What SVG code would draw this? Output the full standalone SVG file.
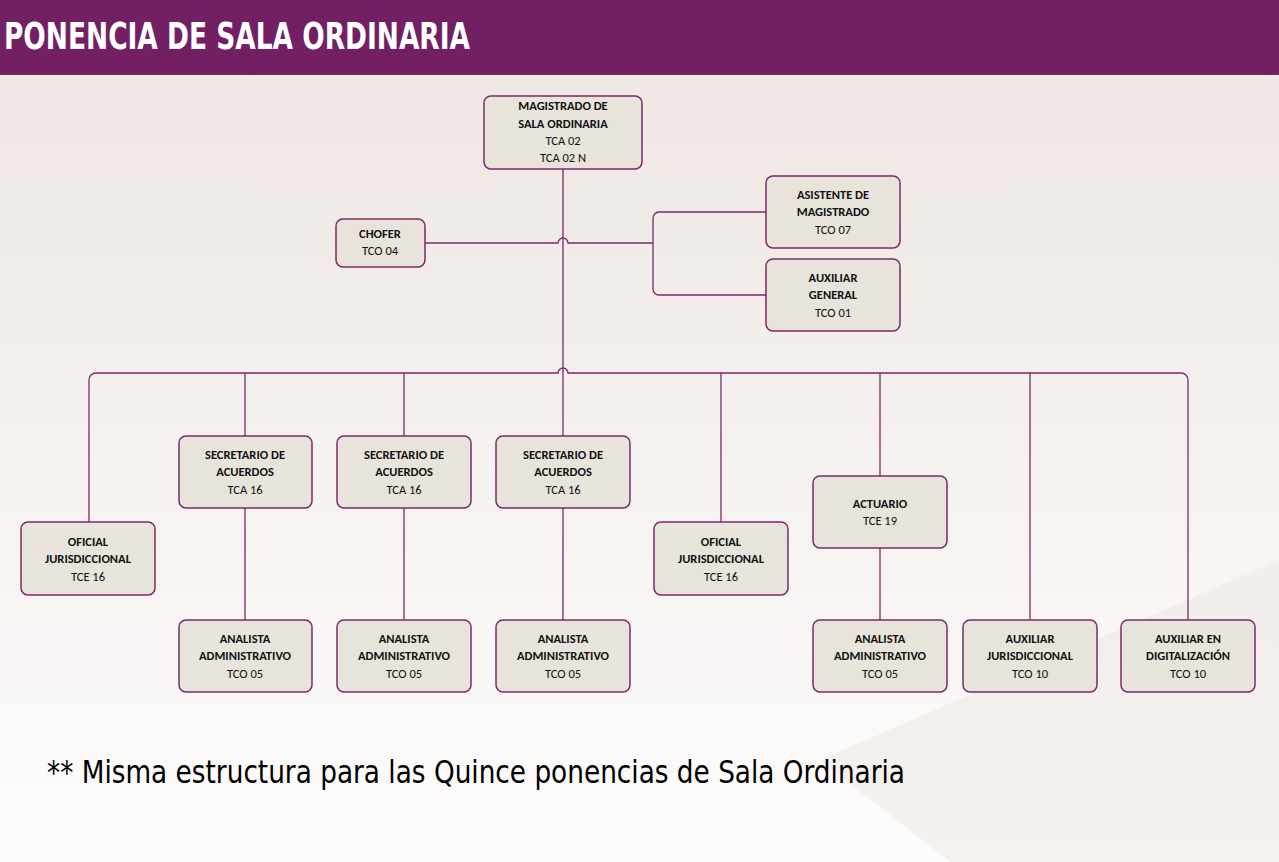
<svg xmlns="http://www.w3.org/2000/svg" width="1279" height="862" viewBox="0 0 1279 862">
<defs>
<linearGradient id="bg" x1="0" y1="0" x2="0" y2="1"><stop offset="0" stop-color="#ede5e0"/><stop offset="1" stop-color="#fdfcfc"/></linearGradient>
<style>
.n rect{fill:#e8e3db;stroke:#7a2a6c;stroke-width:1.5}
.n text{font-family:Calibri,"Carlito","Liberation Sans",sans-serif;font-size:12.5px;fill:#111;text-anchor:middle}
.b{font-weight:bold}
.c path{fill:none;stroke:#7a2a6c;stroke-width:1.3}
</style>
</defs>
<rect width="1279" height="862" fill="url(#bg)"/>
<polygon points="1279,560 1279,862 950,862 820,760" fill="#efe9e6" opacity="0.6"/>
<rect width="1279" height="75" fill="#722063"/>
<text x="4" y="49" font-family="'DejaVu Sans Condensed','DejaVu Sans',sans-serif" font-weight="bold" font-size="38" fill="#fff" textLength="466" lengthAdjust="spacingAndGlyphs">PONENCIA DE SALA ORDINARIA</text>
<g class="c">
<path d="M563 169 V436"/>
<path d="M425 243 H558 a5 5 0 0 1 10 0 H653 M766 212 H659 a6 6 0 0 0 -6 6 V289 a6 6 0 0 0 6 6 H766"/>
<path d="M89 522 V380 a7 7 0 0 1 7 -7 H558 a5 5 0 0 1 10 0 H1181 a7 7 0 0 1 7 7 V620"/>
<path d="M245 373 V436 M404 373 V436 M721 373 V522 M880 373 V476 M1030 373 V620"/>
<path d="M245 508 V620 M404 508 V620 M563 508 V620 M880 548 V620"/>
</g>
<g id="magistrado" class="n"><rect x="484" y="96" width="158" height="73" rx="7"/><text x="563" y="110" class="b">MAGISTRADO DE</text><text x="563" y="128" class="b">SALA ORDINARIA</text><text x="563" y="145">TCA 02</text><text x="563" y="162">TCA 02 N</text></g>
<g id="chofer" class="n"><rect x="336" y="219" width="89" height="48" rx="7"/><text x="380" y="238" class="b">CHOFER</text><text x="380" y="255">TCO 04</text></g>
<g id="asistente" class="n"><rect x="766" y="176" width="134" height="72" rx="7"/><text x="833" y="199" class="b">ASISTENTE DE</text><text x="833" y="216" class="b">MAGISTRADO</text><text x="833" y="234">TCO 07</text></g>
<g id="auxgeneral" class="n"><rect x="766" y="259" width="134" height="72" rx="7"/><text x="833" y="282" class="b">AUXILIAR</text><text x="833" y="299" class="b">GENERAL</text><text x="833" y="317">TCO 01</text></g>
<g id="oficial1" class="n"><rect x="21" y="522" width="134" height="73" rx="7"/><text x="88" y="546" class="b">OFICIAL</text><text x="88" y="563" class="b">JURISDICCIONAL</text><text x="88" y="581">TCE 16</text></g>
<g id="sec1" class="n"><rect x="179" y="436" width="133" height="72" rx="7"/><text x="245" y="459" class="b">SECRETARIO DE</text><text x="245" y="476" class="b">ACUERDOS</text><text x="245" y="494">TCA 16</text></g>
<g id="sec2" class="n"><rect x="337" y="436" width="134" height="72" rx="7"/><text x="404" y="459" class="b">SECRETARIO DE</text><text x="404" y="476" class="b">ACUERDOS</text><text x="404" y="494">TCA 16</text></g>
<g id="sec3" class="n"><rect x="496" y="436" width="134" height="72" rx="7"/><text x="563" y="459" class="b">SECRETARIO DE</text><text x="563" y="476" class="b">ACUERDOS</text><text x="563" y="494">TCA 16</text></g>
<g id="oficial2" class="n"><rect x="654" y="522" width="134" height="73" rx="7"/><text x="721" y="546" class="b">OFICIAL</text><text x="721" y="563" class="b">JURISDICCIONAL</text><text x="721" y="581">TCE 16</text></g>
<g id="actuario" class="n"><rect x="813" y="476" width="134" height="72" rx="7"/><text x="880" y="508" class="b">ACTUARIO</text><text x="880" y="525">TCE 19</text></g>
<g id="an1" class="n"><rect x="179" y="620" width="133" height="72" rx="7"/><text x="245" y="643" class="b">ANALISTA</text><text x="245" y="660" class="b">ADMINISTRATIVO</text><text x="245" y="678">TCO 05</text></g>
<g id="an2" class="n"><rect x="337" y="620" width="134" height="72" rx="7"/><text x="404" y="643" class="b">ANALISTA</text><text x="404" y="660" class="b">ADMINISTRATIVO</text><text x="404" y="678">TCO 05</text></g>
<g id="an3" class="n"><rect x="496" y="620" width="134" height="72" rx="7"/><text x="563" y="643" class="b">ANALISTA</text><text x="563" y="660" class="b">ADMINISTRATIVO</text><text x="563" y="678">TCO 05</text></g>
<g id="an4" class="n"><rect x="813" y="620" width="134" height="72" rx="7"/><text x="880" y="643" class="b">ANALISTA</text><text x="880" y="660" class="b">ADMINISTRATIVO</text><text x="880" y="678">TCO 05</text></g>
<g id="auxjur" class="n"><rect x="963" y="620" width="134" height="72" rx="7"/><text x="1030" y="643" class="b">AUXILIAR</text><text x="1030" y="660" class="b">JURISDICCIONAL</text><text x="1030" y="678">TCO 10</text></g>
<g id="auxdig" class="n"><rect x="1121" y="620" width="134" height="72" rx="7"/><text x="1188" y="643" class="b">AUXILIAR EN</text><text x="1188" y="660" class="b">DIGITALIZACIÓN</text><text x="1188" y="678">TCO 10</text></g>
<text x="47" y="783" font-family="'DejaVu Sans Condensed','DejaVu Sans',sans-serif" font-size="32" fill="#000" textLength="858" lengthAdjust="spacingAndGlyphs">** Misma estructura para las Quince ponencias de Sala Ordinaria</text>
</svg>
